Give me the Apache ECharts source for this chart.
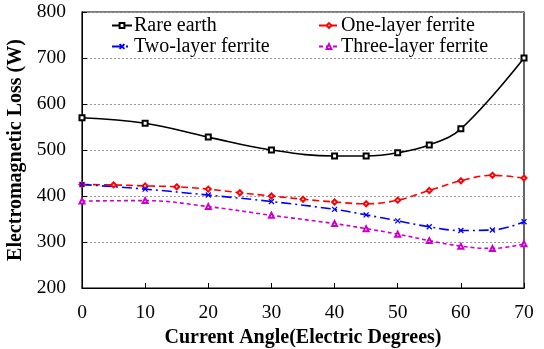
<!DOCTYPE html>
<html lang="en">
<head>
    <meta charset="UTF-8">
    <title>Electromagnetic Loss</title>
    <script src="https://cdn.jsdelivr.net/npm/echarts@6/dist/echarts.min.js"></script>
</head>
<body style="margin:0">
    <div id="main" style="width:544px;height:349px"></div>
    <script>
        // values
        const rareX = [0, 10, 20, 30, 40, 45, 50, 55, 60, 70];
        const rareY = [570, 558, 528, 500, 487, 487, 494, 511, 546, 700];
        const oneX = [0, 5, 10, 15, 20, 25, 30, 35, 40, 45, 50, 55, 60, 65, 70];
        const oneY = [425, 424, 422, 420, 415, 407, 400, 393, 387, 383, 391, 412, 433, 445, 439];
        const twoX = [0, 10, 20, 30, 40, 45, 50, 55, 60, 65, 70];
        const twoY = [425, 415, 402, 388, 371, 359, 346, 333, 325, 326, 344];
        const threeX = [0, 10, 20, 30, 40, 45, 50, 55, 60, 65, 70];
        const threeY = [389, 390, 377, 358, 340, 329, 317, 303, 291, 286, 296];

        const pairs = (xs, ys) => xs.map((x, i) => [x, ys[i]]);
        const font = 'Liberation Serif';

        const chart = echarts.init(document.getElementById('main'));

        const legendBase = {
            orient: 'vertical',
            top: 15,
            padding: 0,
            itemGap: 0,
            itemWidth: 20,
            itemHeight: 6,
            textStyle: { fontFamily: font, fontSize: 20, lineHeight: 21, color: '#000', padding: [0, 0, 0, -3] }
        };

        option = {
            animation: false,
            legend: [
                Object.assign({ left: 111, data: ['Rare earth', 'Two-layer ferrite'] }, legendBase),
                Object.assign({ left: 318, data: ['One-layer ferrite', 'Three-layer ferrite'] }, legendBase)
            ],
            grid: {
                left: 82, right: 20, top: 12, bottom: 61,
                outerBoundsMode: 'none',
                show: true, borderColor: '#000', borderWidth: 1.2
            },
            xAxis: {
                type: 'value',
                min: 0, max: 70, interval: 10,
                name: 'Current Angle(Electric Degrees)',
                nameLocation: 'middle',
                nameGap: 35,
                nameTextStyle: { fontFamily: font, fontSize: 20, fontWeight: 'bold', color: '#000' },
                axisLine: { lineStyle: { color: '#000' } },
                axisTick: { inside: true, length: 5, lineStyle: { color: '#000' } },
                axisLabel: { fontFamily: font, fontSize: 19.5, color: '#000', margin: 15 },
                splitLine: { show: false }
            },
            yAxis: {
                type: 'value',
                min: 200, max: 800, interval: 100,
                name: 'Electromagnetic Loss (W)',
                nameLocation: 'middle',
                nameGap: 54,
                nameTextStyle: { fontFamily: font, fontSize: 20, fontWeight: 'bold', color: '#000' },
                axisLine: { lineStyle: { color: '#000' } },
                axisTick: { inside: true, length: 5, lineStyle: { color: '#000' } },
                axisLabel: { fontFamily: font, fontSize: 19.5, color: '#000', margin: 16 },
                splitLine: { lineStyle: { color: '#999', type: [2, 2], width: 1 } }
            },
            series: [
                {
                    name: 'Rare earth', type: 'line', smooth: 0.4,
                    data: pairs(rareX, rareY),
                    color: '#000',
                    symbol: 'emptyRect', symbolSize: 5,
                    lineStyle: { width: 1.6, color: '#000' },
                    itemStyle: { borderWidth: 1 }
                },
                {
                    name: 'One-layer ferrite', type: 'line', smooth: 0.4,
                    data: pairs(oneX, oneY),
                    color: '#ff0000',
                    symbol: 'emptyDiamond', symbolSize: 5,
                    lineStyle: { width: 1.6, color: '#ff0000', type: [7, 4] },
                    itemStyle: { borderWidth: 1 }
                },
                {
                    name: 'Two-layer ferrite', type: 'line', smooth: 0.4,
                    data: pairs(twoX, twoY),
                    color: '#0000ff',
                    symbol: 'path://M0,0L10,10M10,0L0,10', symbolSize: 5,
                    lineStyle: { width: 1.6, color: '#0000ff', type: [10, 4, 2, 4] },
                    itemStyle: { borderColor: '#0000ff', borderWidth: 1.3 }
                },
                {
                    name: 'Three-layer ferrite', type: 'line', smooth: 0.4,
                    data: pairs(threeX, threeY),
                    color: '#cc00cc',
                    symbol: 'emptyTriangle', symbolSize: 5,
                    lineStyle: { width: 1.6, color: '#cc00cc', type: [4, 3] },
                    itemStyle: { borderWidth: 1 }
                }
            ]
        };

        chart.setOption(option);
    </script>
</body>
</html>
